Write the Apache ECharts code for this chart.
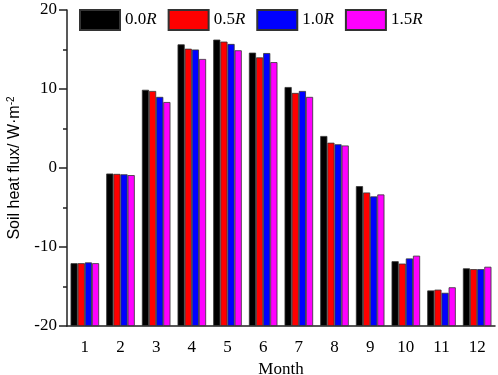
<!DOCTYPE html>
<html>
<head>
<meta charset="utf-8">
<script src="https://cdn.jsdelivr.net/npm/echarts@6/dist/echarts.min.js"></script>
<style>
  html, body { margin: 0; padding: 0; background: #fff; }
  #chart { width: 498px; height: 375px; }
</style>
</head>
<body>
<div id="chart"></div>
<script>
var months = ['1', '2', '3', '4', '5', '6', '7', '8', '9', '10', '11', '12'];
var seriesNames = ['0.0R', '0.5R', '1.0R', '1.5R'];
var r00 = [-12.05, -0.7, 9.9, 15.65, 16.25, 14.6, 10.25, 4.05, -2.3, -11.8, -15.5, -12.7];
var r05 = [-12.05, -0.75, 9.75, 15.1, 16.0, 14.0, 9.5, 3.2, -3.1, -12.1, -15.4, -12.8];
var r10 = [-11.95, -0.8, 9.0, 15.0, 15.7, 14.55, 9.75, 3.0, -3.6, -11.45, -15.8, -12.8];
var r15 = [-12.05, -0.9, 8.35, 13.8, 14.9, 13.4, 9.0, 2.85, -3.35, -11.1, -15.1, -12.5];
var yTicks = [-20, -10, 0, 10, 20];
var colors = ['#000000', '#ff0000', '#0000ff', '#ff00ff'];

// bars in the original grow from the bottom of the axis (-20), not from 0,
// so values are drawn shifted by yMin and the labels shifted back
var yMin = yTicks[0];
var yMax = yTicks[yTicks.length - 1];
var allData = [r00, r05, r10, r15];

var chart = echarts.init(document.getElementById('chart'));

var series = seriesNames.map(function (name, i) {
    return {
        name: name,
        type: 'bar',
        barGap: '0%',
        barCategoryGap: '20%',
        data: allData[i].map(function (v) { return v - yMin; }),
        itemStyle: {
            color: colors[i],
            borderColor: '#333',
            borderWidth: 0.8
        }
    };
});

chart.setOption({
    backgroundColor: '#fff',
    animation: false,
    color: colors,
    legend: {
        top: 4,
        left: 74,
        itemWidth: 40,
        itemHeight: 20,
        itemGap: 11,
        icon: 'rect',
        data: seriesNames,
        formatter: function (name) {
            return '{n|' + name.slice(0, -1) + '}{r|R}';
        },
        textStyle: {
            rich: {
                n: { fontFamily: 'Liberation Serif', fontSize: 17, color: '#000' },
                r: { fontFamily: 'Liberation Serif', fontSize: 17, fontStyle: 'italic', color: '#000' }
            }
        }
    },
    grid: {
        left: 67,
        right: 3,
        top: 10,
        bottom: 49,
        outerBoundsMode: 'none'
    },
    xAxis: {
        type: 'category',
        data: months,
        name: 'Month',
        nameLocation: 'middle',
        nameGap: 30,
        nameTextStyle: { fontFamily: 'Liberation Serif', fontSize: 17, color: '#000' },
        axisLine: { lineStyle: { color: '#222', width: 1.5 } },
        axisTick: { alignWithLabel: true, length: 8, lineStyle: { color: '#222', width: 1.5 } },
        axisLabel: { margin: 13, fontFamily: 'Liberation Serif', fontSize: 17, color: '#000' },
        splitLine: { show: false }
    },
    yAxis: {
        type: 'value',
        min: 0,
        max: yMax - yMin,
        interval: 10,
        name: 'Soil heat flux/ W\u00b7m{s|-2}',
        nameLocation: 'middle',
        nameGap: 43,
        nameTextStyle: {
            fontFamily: 'Liberation Sans',
            fontSize: 16,
            color: '#000',
            rich: {
                s: { fontFamily: 'Liberation Sans', fontSize: 10, color: '#000', verticalAlign: 'top', padding: [0, 0, 8, 0] }
            }
        },
        axisLine: { show: true, lineStyle: { color: '#222', width: 1.5 } },
        axisTick: { show: true, length: 8, lineStyle: { color: '#222', width: 1.5 } },
        minorTick: { show: true, splitNumber: 2, length: 4, lineStyle: { color: '#222', width: 1.5 } },
        axisLabel: {
            margin: 10,
            fontFamily: 'Liberation Serif',
            fontSize: 17,
            color: '#000',
            formatter: function (v) { return String(v + yMin); }
        },
        splitLine: { show: false }
    },
    series: series
});
</script>
</body>
</html>
